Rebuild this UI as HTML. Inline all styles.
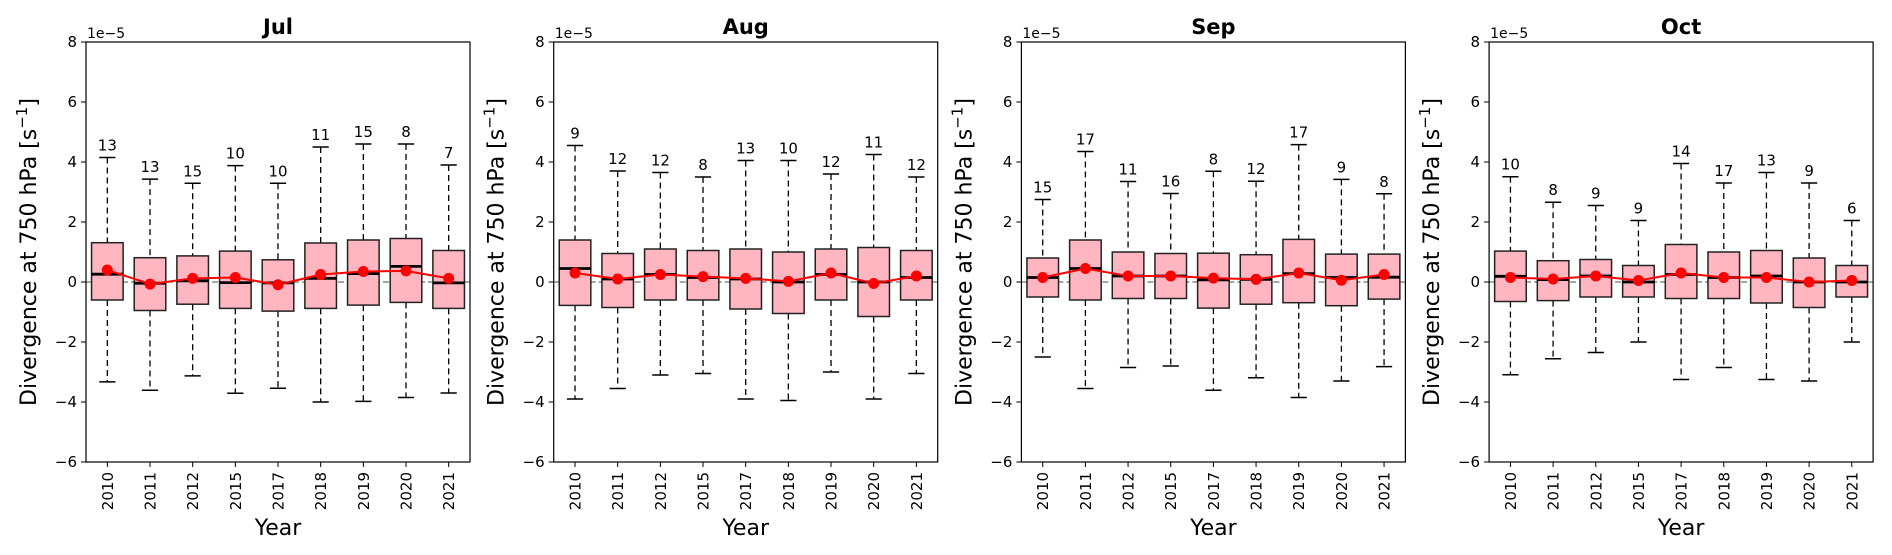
<!DOCTYPE html>
<html><head><meta charset="utf-8"><style>
html,body{margin:0;padding:0;background:#fff;}
svg{display:block;font-family:"DejaVu Sans","Liberation Sans",sans-serif;}
</style></head><body>
<svg id="chart" width="1892" height="555" viewBox="0 0 1892 555" xmlns="http://www.w3.org/2000/svg"></svg>
<script>
const months = ["Jul","Aug","Sep","Oct"];
const years = ["2010","2011","2012","2015","2017","2018","2019","2020","2021"];
const yTicks = [8,6,4,2,0,-2,-4,-6];
const whiskerHigh = [
 [4.15,3.43,3.29,3.88,3.29,4.5,4.6,4.6,3.9],
 [4.55,3.7,3.65,3.5,4.05,4.05,3.6,4.25,3.5],
 [2.75,4.35,3.35,2.95,3.69,3.36,4.58,3.42,2.94],
 [3.51,2.66,2.55,2.05,3.95,3.3,3.65,3.3,2.05]];
const q3 = [
 [1.31,0.81,0.87,1.03,0.74,1.3,1.4,1.45,1.05],
 [1.4,0.95,1.1,1.05,1.1,1.0,1.1,1.15,1.05],
 [0.8,1.4,1.0,0.95,0.96,0.91,1.42,0.93,0.93],
 [1.03,0.71,0.75,0.55,1.25,1.0,1.05,0.8,0.55]];
const medians = [
 [0.26,-0.04,0.04,-0.02,-0.03,0.12,0.28,0.52,-0.03],
 [0.45,0.1,0.25,0.15,0.1,0.0,0.25,0.0,0.15],
 [0.15,0.45,0.2,0.2,0.07,0.09,0.28,0.15,0.16],
 [0.19,0.08,0.2,0.0,0.25,0.15,0.2,0.0,0.0]];
const q1 = [
 [-0.6,-0.95,-0.74,-0.88,-0.97,-0.88,-0.77,-0.68,-0.88],
 [-0.78,-0.85,-0.6,-0.6,-0.9,-1.05,-0.6,-1.15,-0.6],
 [-0.5,-0.6,-0.55,-0.55,-0.87,-0.74,-0.69,-0.79,-0.57],
 [-0.65,-0.62,-0.5,-0.5,-0.55,-0.55,-0.7,-0.85,-0.5]];
const whiskerLow = [
 [-3.33,-3.61,-3.13,-3.71,-3.54,-4.0,-3.98,-3.85,-3.7],
 [-3.9,-3.55,-3.1,-3.05,-3.9,-3.95,-3.0,-3.9,-3.05],
 [-2.5,-3.55,-2.85,-2.8,-3.61,-3.19,-3.85,-3.3,-2.82],
 [-3.09,-2.56,-2.35,-2.0,-3.25,-2.85,-3.25,-3.3,-2.0]];
const means = [
 [0.40,-0.07,0.12,0.15,-0.09,0.25,0.35,0.37,0.12],
 [0.3,0.1,0.25,0.18,0.12,0.02,0.3,-0.05,0.2],
 [0.15,0.45,0.2,0.2,0.13,0.09,0.3,0.06,0.25],
 [0.15,0.1,0.2,0.05,0.3,0.15,0.15,0.0,0.05]];
const counts = [
 [13,13,15,10,10,11,15,8,7],
 [9,12,12,8,13,10,12,11,12],
 [15,17,11,16,8,12,17,9,8],
 [10,8,9,9,14,17,13,9,6]];

const NS="http://www.w3.org/2000/svg";
const svgEl=document.getElementById('chart');
function mk(tag,attrs,parent,text){const e=document.createElementNS(NS,tag);for(const k in attrs)e.setAttribute(k,attrs[k]);if(text!==undefined)e.textContent=text;(parent||svgEl).appendChild(e);return e;}
const plotTop=42,plotBottom=462,W=384,yMax=8,yMin=-6;
const yScale=v=>plotTop+(yMax-v)*(plotBottom-plotTop)/(yMax-yMin);
months.forEach((m,mi)=>{
  const L=86+mi*467.7;
  const step=W/years.length;
  const xScale=i=>L+step*(i+0.5);
  const g=mk('g',{});
  
  
  const t=mk('text',{x:L+W/2,y:34,'text-anchor':'middle','font-size':21,'font-weight':'bold'},g,m);
  
  
  const ex=mk('text',{x:L+1,y:38,'font-size':14},g,'1e\u22125');
  
  
  const z=mk('line',{x1:L,x2:L+W,y1:yScale(0),y2:yScale(0),stroke:'#888','stroke-width':1.5,'stroke-dasharray':'6,3'},g);
  
  
  yTicks.forEach(v=>{
    mk('line',{x1:L-5,x2:L,y1:yScale(v),y2:yScale(v),stroke:'#000','stroke-width':1},g);
    const tl=mk('text',{x:L-9,y:yScale(v)+5,'text-anchor':'end','font-size':15},g,v<0?'\u2212'+(-v):String(v));
    
    
  });
  const yl=mk('text',{x:0,y:0,'text-anchor':'middle','font-size':22,transform:`translate(${L-50},${(plotTop+plotBottom)/2}) rotate(-90)`},g);
  
  
  yl.innerHTML='Divergence at 750 hPa [s<tspan dy="-9" font-size="15">\u22121</tspan><tspan dy="9">]</tspan>';
  const xl=mk('text',{x:L+W/2,y:535,'text-anchor':'middle','font-size':22},g,'Year');
  
  
  const bw=step*0.74, cw=step*0.38;
  years.forEach((yr,i)=>{
    const x=xScale(i);
    mk('line',{x1:x,x2:x,y1:plotBottom,y2:plotBottom+5,stroke:'#000'},g);
    const xt=mk('text',{x:0,y:0,'text-anchor':'end','font-size':15,transform:`translate(${x+5.5},${plotBottom+10}) rotate(-90)`},g,yr);
    
    
    const bg=mk('g',{},g);
    
    
    mk('line',{x1:x,x2:x,y1:yScale(whiskerHigh[mi][i]),y2:yScale(q3[mi][i]),stroke:'#000','stroke-width':1.3,'stroke-dasharray':'6,4'},bg);
    mk('line',{x1:x,x2:x,y1:yScale(q1[mi][i]),y2:yScale(whiskerLow[mi][i]),stroke:'#000','stroke-width':1.3,'stroke-dasharray':'6,4'},bg);
    mk('line',{x1:x-cw/2,x2:x+cw/2,y1:yScale(whiskerHigh[mi][i]),y2:yScale(whiskerHigh[mi][i]),stroke:'#000','stroke-width':1.5},bg);
    mk('line',{x1:x-cw/2,x2:x+cw/2,y1:yScale(whiskerLow[mi][i]),y2:yScale(whiskerLow[mi][i]),stroke:'#000','stroke-width':1.5},bg);
    mk('rect',{x:x-bw/2,y:yScale(q3[mi][i]),width:bw,height:yScale(q1[mi][i])-yScale(q3[mi][i]),fill:'#ffb6c1',stroke:'#222','stroke-width':1.5},bg);
    mk('line',{x1:x-bw/2,x2:x+bw/2,y1:yScale(medians[mi][i]),y2:yScale(medians[mi][i]),stroke:'#000','stroke-width':2.8},bg);
    const c=mk('text',{x:x,y:yScale(whiskerHigh[mi][i])-7,'text-anchor':'middle','font-size':15},bg,String(counts[mi][i]));
    
    
  });
  const pts=years.map((y,i)=>xScale(i)+','+yScale(means[mi][i])).join(' ');
  const pl=mk('polyline',{points:pts,fill:'none',stroke:'red','stroke-width':2},g);
  
  
  years.forEach((y,i)=>{
    const d=mk('circle',{cx:xScale(i),cy:yScale(means[mi][i]),r:5.5,fill:'red'},g);
    
    
  });
  const fr=mk('rect',{x:L,y:plotTop,width:W,height:plotBottom-plotTop,fill:'none',stroke:'#000','stroke-width':1.2},g);
  
  
});
</script>
</body></html>
